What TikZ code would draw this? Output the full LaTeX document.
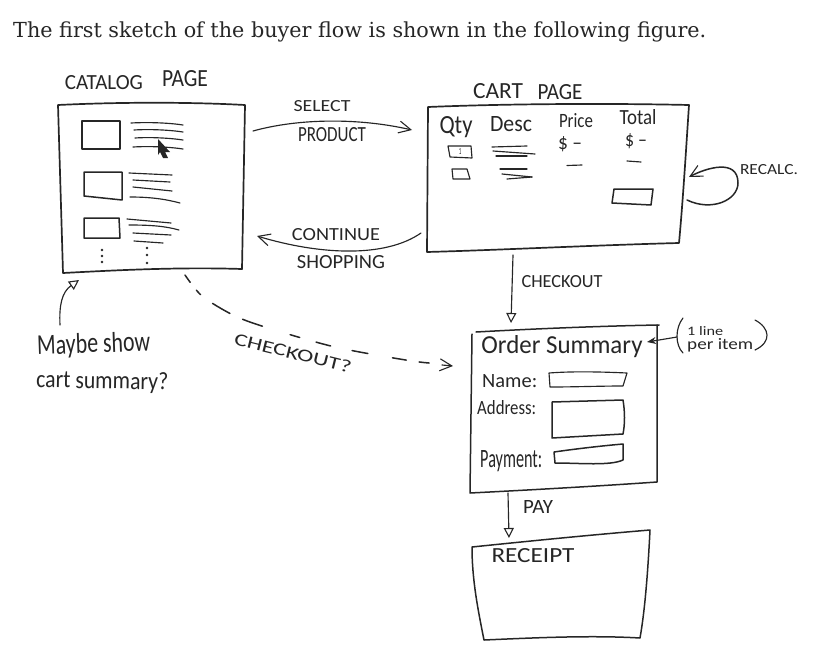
\documentclass[tikz,border=0pt]{standalone}
\usepackage{fontspec}
\usepackage{graphicx}
\setmainfont{Carlito}
\newfontfamily\capfont{DejaVu Serif}
\usetikzlibrary{arrows.meta}
\definecolor{ink}{HTML}{262626}
\newcommand{\hw}[3]{\resizebox{#1pt}{#2pt}{#3}}
\tikzset{
  sketch/.style={draw=ink,line width=1.5pt,line join=round,line cap=round},
  thin sketch/.style={draw=ink,line width=1.15pt,line join=round,line cap=round},
  hand/.style={inner sep=0pt,text=ink},
  open barb/.style={-{Straight Barb[length=12pt,width=12pt,line width=1.1pt]}},
  open tri/.style={-{Triangle[open,length=10pt,width=10pt,line width=1.1pt]}},
  solid tip/.style={-{Stealth[length=9pt,width=7pt]}},
}
\begin{document}
\begin{tikzpicture}[x=1pt,y=-1pt]
\useasboundingbox (0,0) rectangle (821,653);
% caption
\node[inner sep=0pt,anchor=base west,text=ink] (caption) at (13,37) {\resizebox{693pt}{!}{\capfont The first sketch of the buyer flow is shown in the following figure.}};

% catalog page
\draw[sketch,line width=1.7pt] (58,105) .. controls (120,102) and (190,102) .. (245,105) -- (242,269) .. controls (180,267) and (120,270) .. (63,273) -- cycle;
\node[hand] (catalogA) at (104,83) {\hw{78}{14}{CATALOG}};
\node[hand] (catalogB) at (185,79) {\hw{46}{16}{PAGE}};
\draw[sketch] (82,121) -- (120,121) -- (120,149) -- (82,149) -- cycle;
\draw[sketch] (84,172) -- (122,172) -- (122,200) -- (84,196) -- cycle;
\draw[sketch] (84,218) -- (119,218) -- (120,238) -- (84,238) -- cycle;
\foreach \a/\b in {131/123,134/130,135/138,133/147}{\draw[thin sketch] (\a,\b) .. controls (150,\b-1) and (170,\b) .. (183,\b+2);}
\draw[thin sketch] (129,173) -- (172,175);
\draw[thin sketch] (133,180) -- (170,182);
\draw[thin sketch] (133,187) -- (172,191);
\draw[thin sketch] (130,197) .. controls (150,197) and (165,199) .. (180,203);
\draw[thin sketch] (127,219) -- (171,223);
\draw[thin sketch] (129,225) .. controls (150,225) and (165,226) .. (179,230);
\draw[thin sketch] (133,233) -- (171,235);
\draw[thin sketch] (134,241) -- (163,243);
\foreach \x/\y in {102/250,102/256,102/262,147/248,147/255,147/263}{\fill[ink] (\x,\y) circle (1.3pt);}
\fill[black!85] (158,139) -- (170,152) -- (165,152) -- (168,158) -- (163,158) -- (160,152) -- (158,155) -- cycle;

% cart page
\draw[sketch,line width=1.7pt] (428,107) .. controls (500,104) and (600,103) .. (689,105) .. controls (686,150) and (683,200) .. (679,243) .. controls (600,245) and (500,250) .. (427,252) -- cycle;
\node[hand] (cartA) at (498,91) {\hw{50}{15}{CART}};
\node[hand] (cartB) at (560,92) {\hw{45}{15}{PAGE}};
\node[hand] (qty) at (456,127) {\hw{33}{17}{Qty}};
\node[hand] (desc) at (511,124) {\hw{42}{15}{Desc}};
\node[hand] (price) at (576,121) {\hw{34}{14}{Price}};
\node[hand] (total) at (638,117) {\hw{37}{15}{Total}};
\node[hand] (pricev) at (570,144) {\hw{24}{13}{\$ –}};
\node[hand] (totalv) at (636,141) {\hw{22}{13}{\$ –}};
\draw[thin sketch] (448,146) -- (471,146) -- (472,158) -- (450,157) -- cycle;
\node[hand] (one) at (460,151) {\hw{2.5}{6}{1}};
\draw[thin sketch] (452,169) -- (467,169) -- (470,179) -- (453,179) -- cycle;
\draw[thin sketch] (492,147) -- (527,146);
\draw[thin sketch] (493,151) -- (535,154);
\draw[thin sketch] (496,156) -- (527,156);
\draw[thin sketch] (500,169) -- (527,169);
\draw[thin sketch] (502,174) -- (532,177);
\draw[thin sketch] (507,179) -- (532,177);
\draw[thin sketch] (567,165.5) -- (582,165);
\draw[thin sketch] (627,161) -- (641,162);
\draw[sketch] (614,189) -- (653,189) -- (651,205) -- (612,203) -- cycle;

% order summary
\draw[sketch] (476,332) .. controls (530,329) and (600,326) .. (659,325);
\draw[sketch] (472,334) -- (470,493) .. controls (530,490) and (600,486) .. (657,482) -- (657,325);
\node[hand] (order) at (562,347) {\hw{161}{18}{Order Summary}};
\node[hand,anchor=west] (name) at (482,381) {\hw{55}{13}{Name:}};
\node[hand,anchor=west] (address) at (477,408) {\hw{59}{14}{Address:}};
\node[hand,anchor=west] (payment) at (480,461) {\hw{62}{17}{Payment:}};
\draw[thin sketch] (549,373) .. controls (575,371) and (605,372) .. (627,373) -- (623,386) .. controls (600,386) and (575,387) .. (550,387) -- cycle;
\draw[sketch] (552,402) -- (623,400) .. controls (625,412) and (625,424) .. (623,434) -- (552,438) -- cycle;
\draw[sketch] (554,452) .. controls (575,449) and (600,446) .. (623,444) -- (623,460) .. controls (610,466) and (580,463) .. (555,463) -- cycle;
\draw[thin sketch] (683,318) .. controls (675,328) and (675,345) .. (683,353);
\draw[thin sketch] (755,320) .. controls (770,328) and (772,342) .. (755,350);
\node[hand,anchor=west] (line1) at (687,331) {\hw{36}{9}{1 line}};
\node[hand,anchor=west] (line2) at (687,345) {\hw{66}{11}{per item}};
\coordinate (noteS) at (677,337);
\coordinate (noteE) at (647,342);
\draw[thin sketch,solid tip] (noteS) -- (noteE);

% receipt
\draw[sketch] (472,547) .. controls (530,541) and (590,535) .. (650,530) .. controls (648,570) and (645,610) .. (640,638) .. controls (590,635) and (530,638) .. (484,640) .. controls (478,610) and (472,580) .. (472,547) -- cycle;
\node[hand] (receipt) at (533,556) {\hw{83}{14}{RECEIPT}};

% connectors
\coordinate (selS) at (253,131); \coordinate (selE) at (412,130);
\draw[thin sketch,open barb] (selS) .. controls (300,118) and (360,118) .. (selE);
\node[hand] (select) at (322,106) {\hw{57}{11}{SELECT}};
\node[hand] (product) at (332,135) {\hw{68}{14}{PRODUCT}};

\coordinate (conS) at (421,233); \coordinate (conE) at (257,236);
\draw[thin sketch,open barb] (conS) .. controls (385,258) and (320,255) .. (conE);
\node[hand] (continue) at (336,235) {\hw{88}{12}{CONTINUE}};
\node[hand] (shopping) at (341,262) {\hw{88}{13}{SHOPPING}};

\coordinate (recS) at (687,200); \coordinate (recE) at (689,177);
\draw[sketch,open barb] (recS) .. controls (712,212) and (738,200) .. (738,183) .. controls (738,158) and (706,168) .. (recE);
\node[hand] (recalc) at (769,170) {\hw{58}{10}{RECALC.}};

\coordinate (chkS) at (513,255); \coordinate (chkE) at (511,323);
\draw[thin sketch,open tri] (chkS) -- (chkE);
\node[hand] (checkout) at (562,282) {\hw{81}{12}{CHECKOUT}};

\coordinate (payS) at (508,493); \coordinate (payE) at (509,538);
\draw[thin sketch,open tri] (payS) -- (payE);
\node[hand] (pay) at (538,507) {\hw{30}{13}{PAY}};

\draw[sketch,dash pattern=on 9pt off 10pt on 6pt off 15pt on 20pt off 14pt on 21pt off 29pt on 10pt off 17pt on 15pt off 22pt on 16pt off 25pt on 14pt off 13pt on 10pt off 100pt]
  plot[smooth] coordinates {(185,275) (202,296) (233,315) (265,327) (335,347) (412,361) (444,364)};
\coordinate (dashE) at (453,366); \coordinate (dashS) at (442,365);
\draw[thin sketch,open barb] (dashS) -- (dashE);
\node[hand,rotate=-14] (checkq) at (293,353) {\hw{120}{12}{CHECKOUT?}};

\coordinate (mayS) at (60,325); \coordinate (mayE) at (79,280);
\draw[thin sketch,open tri] (mayS) .. controls (59,305) and (62,292) .. (mayE);
\node[hand,anchor=west,rotate=2] (maybe) at (37,347) {\hw{113}{20}{Maybe show}};
\node[hand,anchor=west,rotate=-1] (cart) at (36,381) {\hw{132}{17}{cart summary?}};
\end{tikzpicture}
\end{document}
